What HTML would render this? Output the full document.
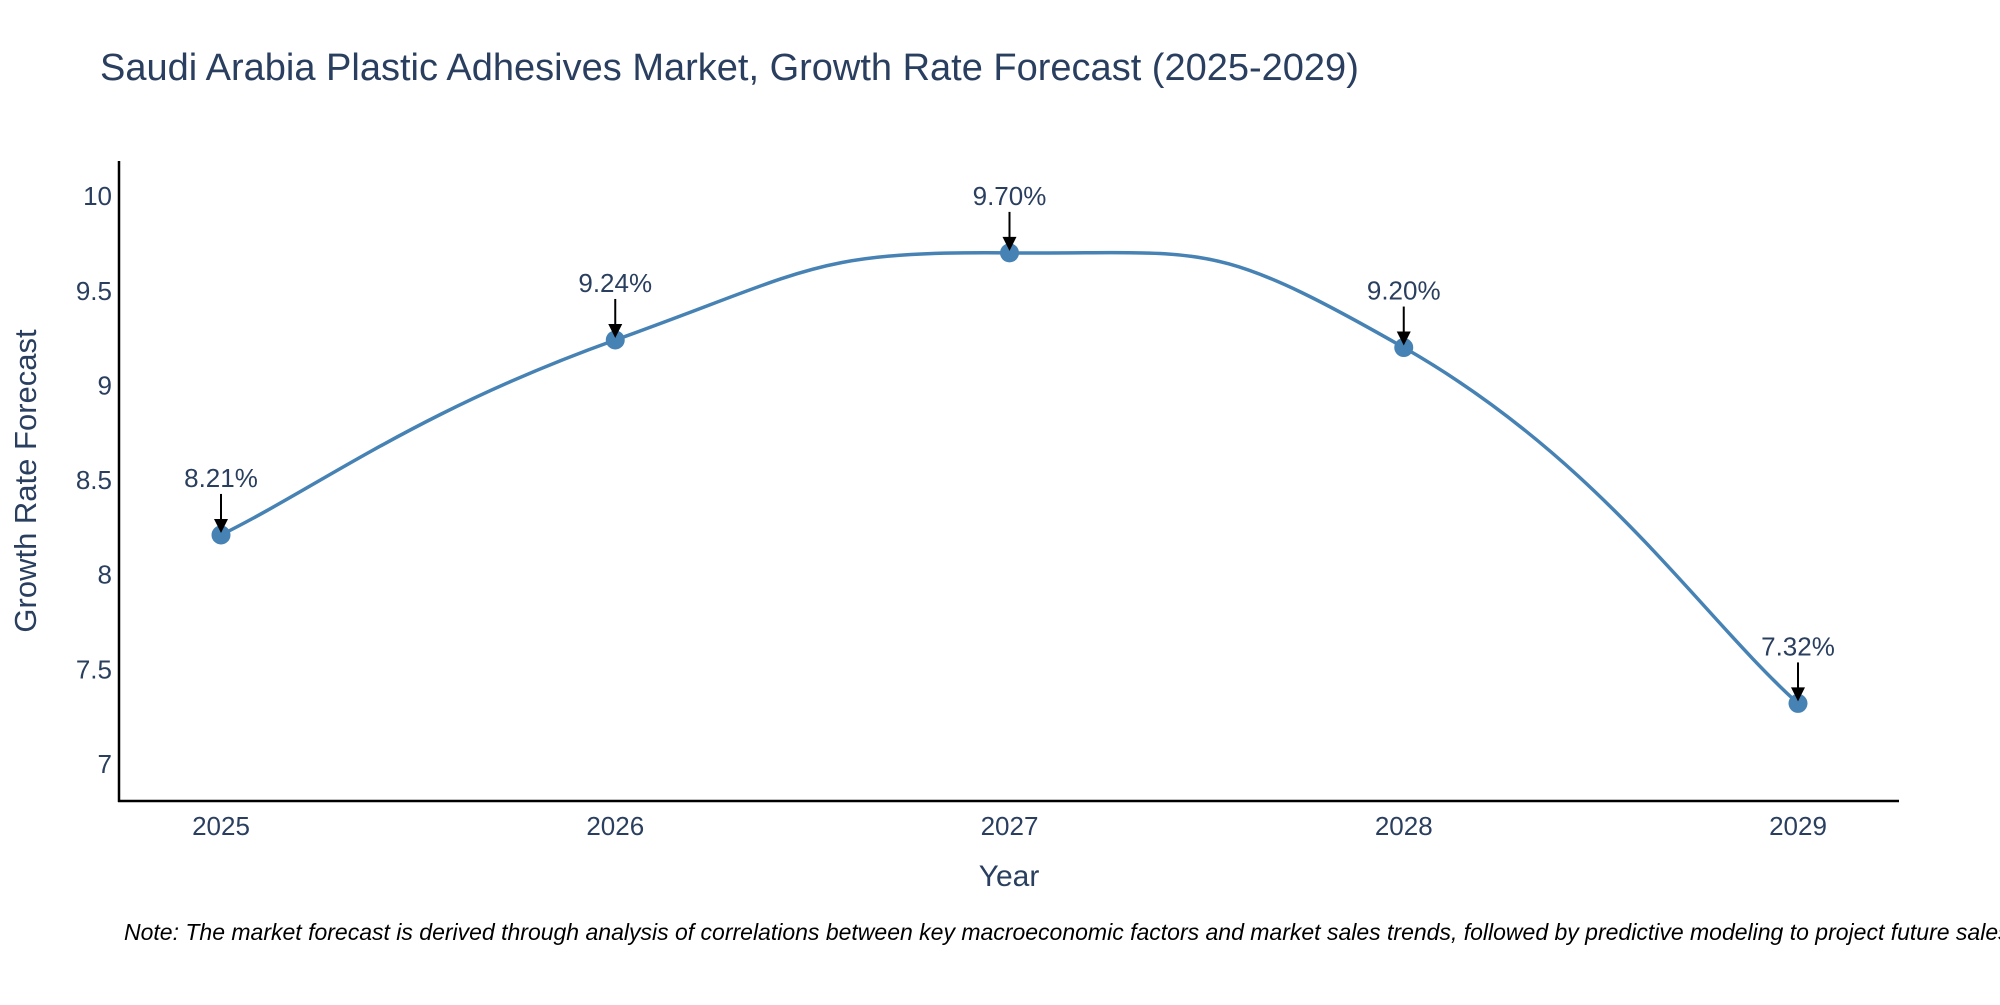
<!DOCTYPE html>
<html><head><meta charset="utf-8"><style>
body{margin:0;background:#fff;font-family:"Liberation Sans",sans-serif}
svg text{font-family:"Liberation Sans",sans-serif;fill:#2a3f5f}
</style></head><body>
<svg width="2000" height="1000">
<text x="100" y="80" font-size="38">Saudi Arabia Plastic Adhesives Market, Growth Rate Forecast (2025-2029)</text>
<g id="yticks"></g><g id="xticks"></g>
<line x1="119" y1="161" x2="119" y2="802" stroke="#000" stroke-width="2.5"/>
<line x1="118" y1="801" x2="1899" y2="801" stroke="#000" stroke-width="2.5"/>
<text x="1009" y="886" font-size="30" text-anchor="middle">Year</text>
<text transform="translate(36,481) rotate(-90)" font-size="31" text-anchor="middle">Growth Rate Forecast</text>
<path id="line" fill="none" stroke="#4682b4" stroke-width="3.5"/>
<g id="pts"></g>
<text x="124" y="940" font-size="23" font-style="italic" style="fill:#000">Note: The market forecast is derived through analysis of correlations between key macroeconomic factors and market sales trends, followed by predictive modeling to project future sales.</text>
</svg>
<script>
const years=["2025","2026","2027","2028","2029"];
const values=[8.21,9.24,9.70,9.20,7.32];
const labels=["8.21%","9.24%","9.70%","9.20%","7.32%"];
const yTicks=[7,7.5,8,8.5,9,9.5,10];
const yTickLabels=["7","7.5","8","8.5","9","9.5","10"];
const NS="http://www.w3.org/2000/svg";
function X(i){return 221+i*(1798-221)/(years.length-1);}
function Y(v){return 764-(v-7)*189.3;}
function mk(t,a,p){const e=document.createElementNS(NS,t);for(const k in a)e.setAttribute(k,a[k]);p.appendChild(e);return e;}
const yt=document.getElementById('yticks');
yTicks.forEach((v,i)=>{const t=mk('text',{x:112,y:Y(v)+9,'font-size':26,'text-anchor':'end'},yt);t.textContent=yTickLabels[i];

});
const xt=document.getElementById('xticks');
years.forEach((y,i)=>{const t=mk('text',{x:X(i),y:835,'font-size':26,'text-anchor':'middle'},xt);t.textContent=y;

});
const P=values.map((v,i)=>[X(i),Y(v)]);
let d=`M${P[0][0]},${P[0][1]}`;const s=0.25;
for(let i=0;i<P.length-1;i++){const p0=P[Math.max(0,i-1)],p1=P[i],p2=P[i+1],p3=P[Math.min(P.length-1,i+2)];
d+=` C${p1[0]+(p2[0]-p0[0])*s},${p1[1]+(p2[1]-p0[1])*s} ${p2[0]-(p3[0]-p1[0])*s},${p2[1]-(p3[1]-p1[1])*s} ${p2[0]},${p2[1]}`;}
document.getElementById('line').setAttribute('d',d);
const g=document.getElementById('pts');
P.forEach((p,i)=>{const c=mk('circle',{cx:p[0],cy:p[1],r:9.5,fill:'#4682b4'},g);


const l=mk('line',{x1:p[0],y1:p[1]-41,x2:p[0],y2:p[1]-14,stroke:'#000','stroke-width':2},g);


const h=mk('polygon',{points:`${p[0]-7},${p[1]-16} ${p[0]+7},${p[1]-16} ${p[0]},${p[1]-2}`,fill:'#000'},g);


const t=mk('text',{x:p[0],y:p[1]-48,'font-size':26,'text-anchor':'middle'},g);t.textContent=labels[i];

});
</script>
</body></html>
